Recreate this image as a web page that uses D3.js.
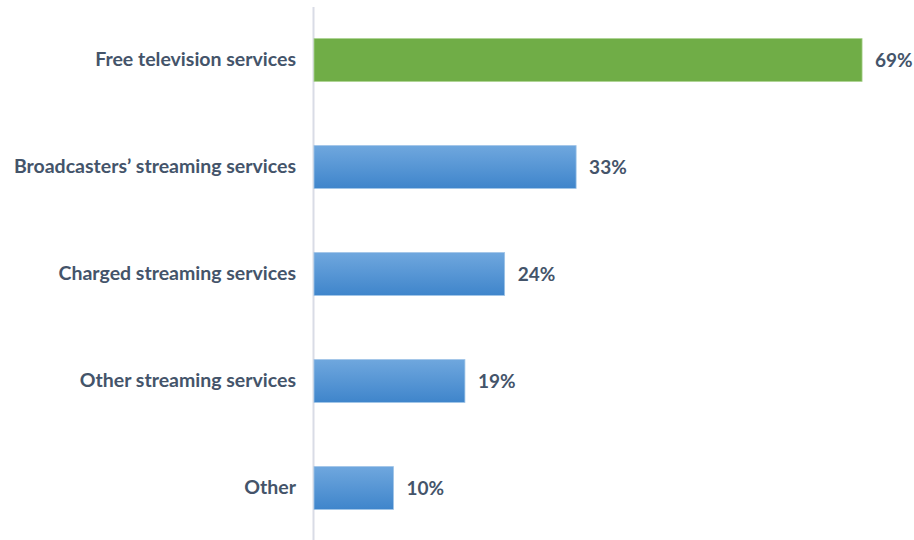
<!DOCTYPE html>
<html>
<head>
<meta charset="utf-8">
<script src="https://cdn.jsdelivr.net/npm/d3@7"></script>
<style>
  html, body { margin: 0; padding: 0; background: #fff; }
  svg { display: block; }
  text { font-family: Lato, "Open Sans", sans-serif; font-weight: 700; fill: #44546a; }
</style>
</head>
<body>
<svg id="chart" width="914" height="540"></svg>
<script>
// Share of respondents using each kind of service
const categories = [
  "Free television services",
  "Broadcasters\u2019 streaming services",
  "Charged streaming services",
  "Other streaming services",
  "Other"
];
const values = [69, 33, 24, 19, 10];
const highlighted = ["Free television services"];

const svg = d3.select("#chart");

const x = d3.scaleLinear().domain([0, 70]).range([314, 870]);
const y = d3.scaleBand()
  .domain(categories)
  .range([6.5, 541.5])
  .paddingInner(0.6)
  .paddingOuter(0.3);

// Vertical gradient for the blue bars
const defs = svg.append("defs");
const grad = defs.append("linearGradient")
  .attr("id", "blueGrad")
  .attr("x1", 0).attr("y1", 0).attr("x2", 0).attr("y2", 1);
grad.append("stop").attr("offset", "0%").attr("stop-color", "#6fa7de");
grad.append("stop").attr("offset", "100%").attr("stop-color", "#3f85cb");

const data = categories.map((c, i) => ({ cat: c, value: values[i] }));

// Category axis
const axis = svg.append("g")
  .attr("transform", `translate(${x(0) - 1},0)`)
  .call(d3.axisLeft(y).tickSizeInner(0).tickSizeOuter(0).tickPadding(17));
axis.select(".domain").attr("stroke", "#d9dce6").attr("stroke-width", 2);
axis.selectAll(".tick text")
  .attr("font-size", 19.5)
  .attr("font-family", null)
  .attr("fill", "#44546a");

// Bars
svg.append("g").selectAll("rect")
  .data(data)
  .join("rect")
  .attr("x", x(0))
  .attr("y", d => y(d.cat))
  .attr("width", d => x(d.value) - x(0))
  .attr("height", y.bandwidth())
  .attr("fill", d => highlighted.includes(d.cat) ? "#70ad47" : "url(#blueGrad)")
  .attr("stroke", d => highlighted.includes(d.cat) ? "#a9d18e" : "#9dc3e6")
  .attr("stroke-width", 0.8);

// Value labels
svg.append("g").selectAll("text")
  .data(data)
  .join("text")
  .attr("x", d => x(d.value) + 13)
  .attr("y", d => y(d.cat) + y.bandwidth() / 2)
  .attr("dy", "0.36em")
  .attr("font-size", 19)
  .text(d => d.value + "%");
</script>
</body>
</html>
